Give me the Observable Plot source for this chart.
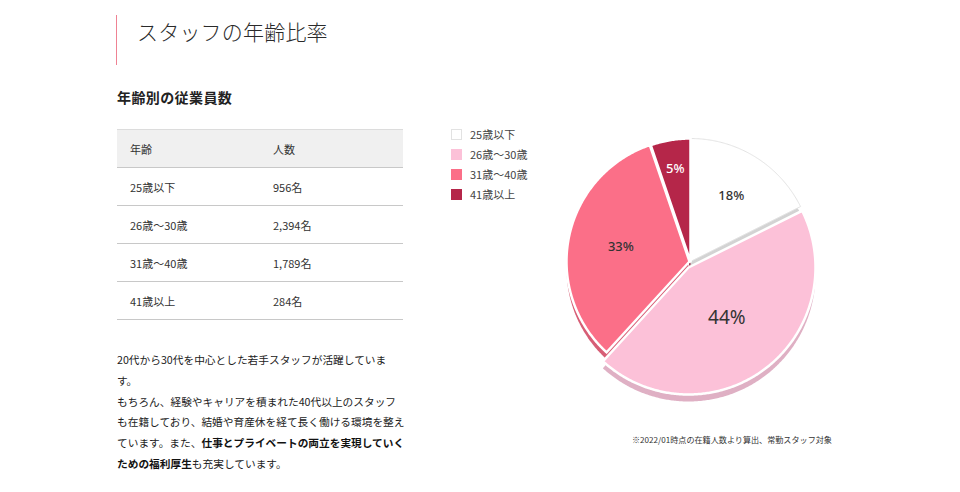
<!DOCTYPE html>
<html lang="ja">
<head>
<meta charset="utf-8">
<script src="https://cdn.jsdelivr.net/npm/d3@7"></script>
<script src="https://cdn.jsdelivr.net/npm/@observablehq/plot@0.6"></script>
<style>
html,body{margin:0;padding:0;background:#fff;}
body{width:960px;height:492px;position:relative;overflow:hidden;font-family:"Noto Sans CJK JP","Noto Sans",sans-serif;color:#333;}
.bar{position:absolute;left:116px;top:15px;width:1px;height:50px;background:#ef8293;}
h1{position:absolute;left:137px;top:14px;margin:0;font-weight:300;font-size:21px;letter-spacing:0.2px;line-height:34px;color:#2a2a2a;white-space:nowrap;}
h2{position:absolute;left:117px;top:86px;margin:0;font-size:14px;font-weight:700;letter-spacing:0.4px;line-height:22px;color:#222;white-space:nowrap;}
#table{position:absolute;left:117px;top:129px;width:286px;border-top:1px solid #dcdcdc;font-size:11px;}
.row{height:37px;border-bottom:1px solid #c8c8c8;display:flex;align-items:center;color:#333;}
.row.head{background:#f0f0f0;}
.row span:first-child{width:143px;padding-left:13px;}
#para{position:absolute;left:117px;top:350px;font-size:10.7px;line-height:20.8px;color:#222;white-space:nowrap;}
#para b{font-weight:700;color:#111;}
#legend{position:absolute;left:451px;top:124px;font-size:11px;color:#444;}
.lg{height:20px;display:flex;align-items:center;}
.sw{width:11px;height:11px;margin-right:8px;box-sizing:border-box;}
#chart{position:absolute;left:540px;top:111px;}
#note{position:absolute;left:632px;top:433px;font-size:8.1px;line-height:14px;color:#333;white-space:nowrap;}
</style>
</head>
<body>
<div class="bar"></div>
<h1 id="title"></h1>
<h2 id="subtitle"></h2>
<div id="table"></div>
<div id="para"></div>
<div id="legend"></div>
<div id="chart"></div>
<div id="note"></div>
<script>
// ---- data ----
const titleText = "スタッフの年齢比率";
const subtitleText = "年齢別の従業員数";
const tableHeaders = ["年齢", "人数"];
const ageGroups = ["25歳以下", "26歳〜30歳", "31歳〜40歳", "41歳以上"];
const headcounts = [956, 2394, 1789, 284];
const paraLines = [
  ["20代から30代を中心とした若手スタッフが活躍していま"],
  ["す。"],
  ["もちろん、経験やキャリアを積まれた40代以上のスタッフ"],
  ["も在籍しており、結婚や育産休を経て長く働ける環境を整え"],
  ["ています。また、", "仕事とプライベートの両立を実現していく"],
  ["", "ための福利厚生", "も充実しています。"]
];
const footnoteText = "※2022/01時点の在籍人数より算出、常勤スタッフ対象";

// ---- styles ----
const sliceColors = ["#ffffff", "#fcc1d8", "#fb6f88", "#b52649"];
const shadowColors = ["#d3d3d3", "#dfb0c4", "#d75e76", "#8c1e3a"];
const radii = [123, 127, 123, 123];
const explode = [[0, 0], [-2, -6], [-1, 0], [0, 0]];
const labelR = [0.63, 0.5, 0.57, 0.76];
const depth = 7;

// ---- page text ----
document.getElementById("title").textContent = titleText;
document.getElementById("subtitle").textContent = subtitleText;
const fmt = d3.format(",");
const tbl = document.getElementById("table");
tbl.innerHTML = `<div class="row head"><span>${tableHeaders[0]}</span><span>${tableHeaders[1]}</span></div>` +
  ageGroups.map((g, i) => `<div class="row"><span>${g}</span><span>${fmt(headcounts[i])}名</span></div>`).join("");
document.getElementById("para").innerHTML = paraLines.map(parts =>
  parts.map((p, j) => (j % 2 === 1 ? `<b>${p}</b>` : p)).join("")).join("<br>");
document.getElementById("legend").innerHTML = ageGroups.map((g, i) =>
  `<div class="lg"><div class="sw" style="background:${sliceColors[i]};${i === 0 ? "border:1px solid #e2e2e2;" : ""}"></div>${g}</div>`).join("");
document.getElementById("note").textContent = footnoteText;

// ---- pie geometry ----
const total = d3.sum(headcounts);
const arcs = d3.pie().sort(null).value(d => d)(headcounts);
function slicePoints(i, dx = 0, dy = 0) {
  const a = arcs[i];
  const R = radii[i];
  const ox = explode[i][0] + dx, oy = explode[i][1] + dy;
  const pts = [{x: ox, y: oy}];
  const n = Math.max(4, Math.ceil((a.endAngle - a.startAngle) / 0.01));
  for (let k = 0; k <= n; k++) {
    const t = a.startAngle + (a.endAngle - a.startAngle) * k / n;
    pts.push({x: ox + R * Math.sin(t), y: oy + R * Math.cos(t)});
  }
  pts.push({x: ox, y: oy});
  return pts.map(p => ({...p, group: ageGroups[i]}));
}
const labels = arcs.map((a, i) => {
  const m = (a.startAngle + a.endAngle) / 2;
  const r = radii[i] * labelR[i];
  return {
    x: explode[i][0] + r * Math.sin(m),
    y: explode[i][1] + r * Math.cos(m),
    text: Math.round(headcounts[i] / total * 100) + "%",
    value: headcounts[i],
    dark: d3.hsl(sliceColors[i]).l < 0.5
  };
});
const maxV = d3.max(headcounts);

const shadowMarks = ageGroups.map((g, i) =>
  Plot.line(slicePoints(i, 0, -depth), {x: "x", y: "y", fill: shadowColors[i], stroke: "none"}));

const firstSlice = slicePoints(0);
const otherSlices = ageGroups.slice(1).flatMap((g, j) => slicePoints(j + 1));
const labelFont = "'Noto Sans', sans-serif";

const plot = Plot.plot({
  width: 300,
  height: 300,
  margin: 0,
  x: {domain: [-150, 150], axis: null},
  y: {domain: [-150, 150], axis: null},
  color: {domain: ageGroups, range: sliceColors},
  style: {background: "transparent", overflow: "visible"},
  marks: [
    ...shadowMarks,
    Plot.line(firstSlice, {x: "x", y: "y", z: "group", fill: "group", stroke: "#e4e4e4", strokeWidth: 1}),
    Plot.line(otherSlices, {x: "x", y: "y", z: "group", fill: "group", stroke: "white", strokeWidth: 2.5, strokeLinejoin: "miter", strokeMiterlimit: 4}),
    Plot.text(labels.filter(d => d.value !== maxV && !d.dark), {x: "x", y: "y", text: "text", fill: "#333", fontSize: 13, fontFamily: labelFont, fontWeight: 500}),
    Plot.text(labels.filter(d => d.value !== maxV && d.dark), {x: "x", y: "y", text: "text", fill: "white", fontSize: 13, fontFamily: labelFont, fontWeight: 500}),
    Plot.text(labels.filter(d => d.value === maxV), {x: "x", y: "y", text: "text", fill: "#333", fontSize: 19, fontFamily: labelFont, fontWeight: 400})
  ]
});
document.getElementById("chart").appendChild(plot);
</script>
</body>
</html>
